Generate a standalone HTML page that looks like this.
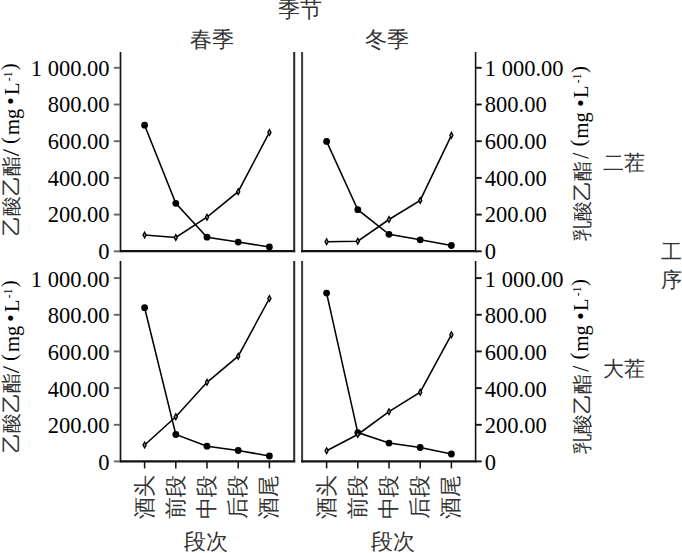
<!DOCTYPE html><html><head><meta charset="utf-8"><style>html,body{margin:0;padding:0;background:#fff;width:682px;height:553px;overflow:hidden}svg{display:block}text{font-family:"Liberation Serif",serif;fill:#000}.c{fill:#333}</style></head><body>
<svg width="682" height="553" viewBox="0 0 682 553">
<line x1="120.5" y1="52" x2="120.5" y2="252.2" stroke="#151515" stroke-width="1.7" stroke-linecap="butt"/>
<line x1="119.65" y1="251.2" x2="295.2" y2="251.2" stroke="#111" stroke-width="2.2" stroke-linecap="butt"/>
<line x1="294.2" y1="52" x2="294.2" y2="252.2" stroke="#262626" stroke-width="2.0" stroke-linecap="butt"/>
<line x1="302.1" y1="52" x2="302.1" y2="252.2" stroke="#3a3a3a" stroke-width="2.0" stroke-linecap="butt"/>
<line x1="301.1" y1="251.2" x2="476.4" y2="251.2" stroke="#111" stroke-width="2.2" stroke-linecap="butt"/>
<line x1="475.6" y1="52" x2="475.6" y2="252.2" stroke="#151515" stroke-width="1.6" stroke-linecap="butt"/>
<line x1="113.8" y1="251.3" x2="120" y2="251.3" stroke="#666" stroke-width="1.9"/>
<line x1="476" y1="251.3" x2="481.7" y2="251.3" stroke="#111" stroke-width="1.9"/>
<text x="109.5" y="259.1" font-size="22.5" text-anchor="end">0</text>
<text x="484.8" y="259.1" font-size="22.5" text-anchor="start">0</text>
<line x1="113.8" y1="214.6" x2="120" y2="214.6" stroke="#666" stroke-width="1.9"/>
<line x1="476" y1="214.6" x2="481.7" y2="214.6" stroke="#111" stroke-width="1.9"/>
<text x="109.5" y="222.4" font-size="22.5" text-anchor="end">200.00</text>
<text x="484.8" y="222.4" font-size="22.5" text-anchor="start">200.00</text>
<line x1="113.8" y1="177.9" x2="120" y2="177.9" stroke="#666" stroke-width="1.9"/>
<line x1="476" y1="177.9" x2="481.7" y2="177.9" stroke="#111" stroke-width="1.9"/>
<text x="109.5" y="185.7" font-size="22.5" text-anchor="end">400.00</text>
<text x="484.8" y="185.7" font-size="22.5" text-anchor="start">400.00</text>
<line x1="113.8" y1="141.2" x2="120" y2="141.2" stroke="#666" stroke-width="1.9"/>
<line x1="476" y1="141.2" x2="481.7" y2="141.2" stroke="#111" stroke-width="1.9"/>
<text x="109.5" y="149.0" font-size="22.5" text-anchor="end">600.00</text>
<text x="484.8" y="149.0" font-size="22.5" text-anchor="start">600.00</text>
<line x1="113.8" y1="104.5" x2="120" y2="104.5" stroke="#666" stroke-width="1.9"/>
<line x1="476" y1="104.5" x2="481.7" y2="104.5" stroke="#111" stroke-width="1.9"/>
<text x="109.5" y="112.3" font-size="22.5" text-anchor="end">800.00</text>
<text x="484.8" y="112.3" font-size="22.5" text-anchor="start">800.00</text>
<line x1="113.8" y1="67.8" x2="120" y2="67.8" stroke="#666" stroke-width="1.9"/>
<line x1="476" y1="67.8" x2="481.7" y2="67.8" stroke="#111" stroke-width="1.9"/>
<text x="109.5" y="75.6" font-size="22.5" text-anchor="end">1 000.00</text>
<text x="484.8" y="75.6" font-size="22.5" text-anchor="start">1 000.00</text>
<line x1="120.5" y1="261" x2="120.5" y2="462.3" stroke="#151515" stroke-width="1.7" stroke-linecap="butt"/>
<line x1="119.65" y1="461.3" x2="295.2" y2="461.3" stroke="#111" stroke-width="2.2" stroke-linecap="butt"/>
<line x1="294.2" y1="261" x2="294.2" y2="462.3" stroke="#262626" stroke-width="2.0" stroke-linecap="butt"/>
<line x1="302.1" y1="261" x2="302.1" y2="462.3" stroke="#3a3a3a" stroke-width="2.0" stroke-linecap="butt"/>
<line x1="301.1" y1="461.3" x2="476.4" y2="461.3" stroke="#111" stroke-width="2.2" stroke-linecap="butt"/>
<line x1="475.6" y1="261" x2="475.6" y2="462.3" stroke="#151515" stroke-width="1.6" stroke-linecap="butt"/>
<line x1="113.8" y1="461.4" x2="120" y2="461.4" stroke="#666" stroke-width="1.9"/>
<line x1="476" y1="461.4" x2="481.7" y2="461.4" stroke="#111" stroke-width="1.9"/>
<text x="109.5" y="469.9" font-size="22.5" text-anchor="end">0</text>
<text x="484.8" y="469.9" font-size="22.5" text-anchor="start">0</text>
<line x1="113.8" y1="424.8" x2="120" y2="424.8" stroke="#666" stroke-width="1.9"/>
<line x1="476" y1="424.8" x2="481.7" y2="424.8" stroke="#111" stroke-width="1.9"/>
<text x="109.5" y="433.2" font-size="22.5" text-anchor="end">200.00</text>
<text x="484.8" y="433.2" font-size="22.5" text-anchor="start">200.00</text>
<line x1="113.8" y1="388.1" x2="120" y2="388.1" stroke="#666" stroke-width="1.9"/>
<line x1="476" y1="388.1" x2="481.7" y2="388.1" stroke="#111" stroke-width="1.9"/>
<text x="109.5" y="396.6" font-size="22.5" text-anchor="end">400.00</text>
<text x="484.8" y="396.6" font-size="22.5" text-anchor="start">400.00</text>
<line x1="113.8" y1="351.4" x2="120" y2="351.4" stroke="#666" stroke-width="1.9"/>
<line x1="476" y1="351.4" x2="481.7" y2="351.4" stroke="#111" stroke-width="1.9"/>
<text x="109.5" y="359.9" font-size="22.5" text-anchor="end">600.00</text>
<text x="484.8" y="359.9" font-size="22.5" text-anchor="start">600.00</text>
<line x1="113.8" y1="314.8" x2="120" y2="314.8" stroke="#666" stroke-width="1.9"/>
<line x1="476" y1="314.8" x2="481.7" y2="314.8" stroke="#111" stroke-width="1.9"/>
<text x="109.5" y="323.3" font-size="22.5" text-anchor="end">800.00</text>
<text x="484.8" y="323.3" font-size="22.5" text-anchor="start">800.00</text>
<line x1="113.8" y1="278.1" x2="120" y2="278.1" stroke="#666" stroke-width="1.9"/>
<line x1="476" y1="278.1" x2="481.7" y2="278.1" stroke="#111" stroke-width="1.9"/>
<text x="109.5" y="286.6" font-size="22.5" text-anchor="end">1 000.00</text>
<text x="484.8" y="286.6" font-size="22.5" text-anchor="start">1 000.00</text>
<line x1="144.6" y1="461.4" x2="144.6" y2="468.4" stroke="#111" stroke-width="1.5"/>
<line x1="175.8" y1="461.4" x2="175.8" y2="468.4" stroke="#111" stroke-width="1.5"/>
<line x1="207.0" y1="461.4" x2="207.0" y2="468.4" stroke="#111" stroke-width="1.5"/>
<line x1="238.2" y1="461.4" x2="238.2" y2="468.4" stroke="#111" stroke-width="1.5"/>
<line x1="269.4" y1="461.4" x2="269.4" y2="468.4" stroke="#111" stroke-width="1.5"/>
<line x1="326.6" y1="461.4" x2="326.6" y2="468.4" stroke="#111" stroke-width="1.5"/>
<line x1="357.8" y1="461.4" x2="357.8" y2="468.4" stroke="#111" stroke-width="1.5"/>
<line x1="389.0" y1="461.4" x2="389.0" y2="468.4" stroke="#111" stroke-width="1.5"/>
<line x1="420.2" y1="461.4" x2="420.2" y2="468.4" stroke="#111" stroke-width="1.5"/>
<line x1="451.4" y1="461.4" x2="451.4" y2="468.4" stroke="#111" stroke-width="1.5"/>
<polyline points="144.6,125.2 175.8,203.3 207.0,237.2 238.2,242.1 269.4,247.0" fill="none" stroke="#000" stroke-width="1.55"/>
<circle cx="144.6" cy="125.2" r="3.4" fill="#000"/>
<circle cx="175.8" cy="203.3" r="3.4" fill="#000"/>
<circle cx="207.0" cy="237.2" r="3.4" fill="#000"/>
<circle cx="238.2" cy="242.1" r="3.4" fill="#000"/>
<circle cx="269.4" cy="247.0" r="3.4" fill="#000"/>
<polyline points="326.6,141.4 357.8,209.7 389.0,234.3 420.2,239.8 451.4,245.5" fill="none" stroke="#000" stroke-width="1.55"/>
<circle cx="326.6" cy="141.4" r="3.4" fill="#000"/>
<circle cx="357.8" cy="209.7" r="3.4" fill="#000"/>
<circle cx="389.0" cy="234.3" r="3.4" fill="#000"/>
<circle cx="420.2" cy="239.8" r="3.4" fill="#000"/>
<circle cx="451.4" cy="245.5" r="3.4" fill="#000"/>
<polyline points="144.6,307.7 175.8,434.5 207.0,446.2 238.2,450.5 269.4,456.0" fill="none" stroke="#000" stroke-width="1.55"/>
<circle cx="144.6" cy="307.7" r="3.4" fill="#000"/>
<circle cx="175.8" cy="434.5" r="3.4" fill="#000"/>
<circle cx="207.0" cy="446.2" r="3.4" fill="#000"/>
<circle cx="238.2" cy="450.5" r="3.4" fill="#000"/>
<circle cx="269.4" cy="456.0" r="3.4" fill="#000"/>
<polyline points="326.6,293.1 357.8,432.6 389.0,443.1 420.2,447.5 451.4,454.0" fill="none" stroke="#000" stroke-width="1.55"/>
<circle cx="326.6" cy="293.1" r="3.4" fill="#000"/>
<circle cx="357.8" cy="432.6" r="3.4" fill="#000"/>
<circle cx="389.0" cy="443.1" r="3.4" fill="#000"/>
<circle cx="420.2" cy="447.5" r="3.4" fill="#000"/>
<circle cx="451.4" cy="454.0" r="3.4" fill="#000"/>
<polyline points="144.6,235.1 175.8,237.4 207.0,217.2 238.2,191.7 269.4,132.4" fill="none" stroke="#000" stroke-width="1.55"/>
<path d="M144.6 232.2 L146.2 235.1 L144.6 238.0 L143.0 235.1 Z" fill="#999" stroke="#000" stroke-width="1.3"/>
<path d="M175.8 234.5 L177.4 237.4 L175.8 240.3 L174.2 237.4 Z" fill="#999" stroke="#000" stroke-width="1.3"/>
<path d="M207.0 214.3 L208.6 217.2 L207.0 220.1 L205.4 217.2 Z" fill="#999" stroke="#000" stroke-width="1.3"/>
<path d="M238.2 188.8 L239.8 191.7 L238.2 194.6 L236.6 191.7 Z" fill="#999" stroke="#000" stroke-width="1.3"/>
<path d="M269.4 129.5 L271.0 132.4 L269.4 135.3 L267.8 132.4 Z" fill="#999" stroke="#000" stroke-width="1.3"/>
<polyline points="326.6,241.8 357.8,241.2 389.0,219.5 420.2,200.4 451.4,135.3" fill="none" stroke="#000" stroke-width="1.55"/>
<path d="M326.6 238.9 L328.2 241.8 L326.6 244.7 L325.0 241.8 Z" fill="#999" stroke="#000" stroke-width="1.3"/>
<path d="M357.8 238.3 L359.4 241.2 L357.8 244.1 L356.2 241.2 Z" fill="#999" stroke="#000" stroke-width="1.3"/>
<path d="M389.0 216.6 L390.6 219.5 L389.0 222.4 L387.4 219.5 Z" fill="#999" stroke="#000" stroke-width="1.3"/>
<path d="M420.2 197.5 L421.8 200.4 L420.2 203.3 L418.6 200.4 Z" fill="#999" stroke="#000" stroke-width="1.3"/>
<path d="M451.4 132.4 L453.0 135.3 L451.4 138.2 L449.8 135.3 Z" fill="#999" stroke="#000" stroke-width="1.3"/>
<polyline points="144.6,445.0 175.8,416.7 207.0,382.3 238.2,356.2 269.4,298.5" fill="none" stroke="#000" stroke-width="1.55"/>
<path d="M144.6 442.1 L146.2 445.0 L144.6 447.9 L143.0 445.0 Z" fill="#999" stroke="#000" stroke-width="1.3"/>
<path d="M175.8 413.8 L177.4 416.7 L175.8 419.6 L174.2 416.7 Z" fill="#999" stroke="#000" stroke-width="1.3"/>
<path d="M207.0 379.4 L208.6 382.3 L207.0 385.2 L205.4 382.3 Z" fill="#999" stroke="#000" stroke-width="1.3"/>
<path d="M238.2 353.3 L239.8 356.2 L238.2 359.1 L236.6 356.2 Z" fill="#999" stroke="#000" stroke-width="1.3"/>
<path d="M269.4 295.6 L271.0 298.5 L269.4 301.4 L267.8 298.5 Z" fill="#999" stroke="#000" stroke-width="1.3"/>
<polyline points="326.6,450.7 357.8,434.5 389.0,411.7 420.2,392.2 451.4,334.7" fill="none" stroke="#000" stroke-width="1.55"/>
<path d="M326.6 447.8 L328.2 450.7 L326.6 453.6 L325.0 450.7 Z" fill="#999" stroke="#000" stroke-width="1.3"/>
<path d="M357.8 431.6 L359.4 434.5 L357.8 437.4 L356.2 434.5 Z" fill="#999" stroke="#000" stroke-width="1.3"/>
<path d="M389.0 408.8 L390.6 411.7 L389.0 414.6 L387.4 411.7 Z" fill="#999" stroke="#000" stroke-width="1.3"/>
<path d="M420.2 389.3 L421.8 392.2 L420.2 395.1 L418.6 392.2 Z" fill="#999" stroke="#000" stroke-width="1.3"/>
<path d="M451.4 331.8 L453.0 334.7 L451.4 337.6 L449.8 334.7 Z" fill="#999" stroke="#000" stroke-width="1.3"/>
<text x="300" y="17.0" font-size="21.8" text-anchor="middle" class="c">季节</text>
<text x="211.6" y="46.6" font-size="21.8" text-anchor="middle" class="c">春季</text>
<text x="386.8" y="46.6" font-size="21.8" text-anchor="middle" class="c">冬季</text>
<text x="603" y="170" font-size="21" class="c">二茬</text>
<text x="603" y="376" font-size="21" class="c">大茬</text>
<text x="661" y="258.7" font-size="21" class="c">工</text>
<text x="661" y="286.5" font-size="21" class="c">序</text>
<text transform="translate(144.6,518.6) rotate(-90)" font-size="21.5" dominant-baseline="central" class="c">酒头</text>
<text transform="translate(175.8,518.6) rotate(-90)" font-size="21.5" dominant-baseline="central" class="c">前段</text>
<text transform="translate(207.0,518.6) rotate(-90)" font-size="21.5" dominant-baseline="central" class="c">中段</text>
<text transform="translate(238.2,518.6) rotate(-90)" font-size="21.5" dominant-baseline="central" class="c">后段</text>
<text transform="translate(269.4,518.6) rotate(-90)" font-size="21.5" dominant-baseline="central" class="c">酒尾</text>
<text transform="translate(326.6,518.6) rotate(-90)" font-size="21.5" dominant-baseline="central" class="c">酒头</text>
<text transform="translate(357.8,518.6) rotate(-90)" font-size="21.5" dominant-baseline="central" class="c">前段</text>
<text transform="translate(389.0,518.6) rotate(-90)" font-size="21.5" dominant-baseline="central" class="c">中段</text>
<text transform="translate(420.2,518.6) rotate(-90)" font-size="21.5" dominant-baseline="central" class="c">后段</text>
<text transform="translate(451.4,518.6) rotate(-90)" font-size="21.5" dominant-baseline="central" class="c">酒尾</text>
<text x="206.1" y="549.2" font-size="22.2" text-anchor="middle" class="c">段次</text>
<text x="393.3" y="549.2" font-size="22.2" text-anchor="middle" class="c">段次</text>
<text transform="translate(16.45,70.30) rotate(-90)" font-size="21">)</text>
<text transform="translate(11.70,81.20) rotate(-90)" font-size="11.5">-1</text>
<text transform="translate(19.00,95.10) rotate(-90)" font-size="20.5">L</text>
<text transform="translate(18.40,105.10) rotate(-90)" font-size="22">•</text>
<text transform="translate(19.00,135.00) rotate(-90)" font-size="20.5">mg</text>
<text transform="translate(16.35,143.90) rotate(-90)" font-size="21">(</text>
<line x1="3.3" y1="149.6" x2="19" y2="155.6" stroke="#111" stroke-width="1.2"/>
<text transform="translate(17.90,235.70) rotate(-90)" font-size="19.8" class="c">乙酸乙酯</text>
<text transform="translate(16.45,287.30) rotate(-90)" font-size="21">)</text>
<text transform="translate(11.70,298.20) rotate(-90)" font-size="11.5">-1</text>
<text transform="translate(19.00,312.10) rotate(-90)" font-size="20.5">L</text>
<text transform="translate(18.40,322.10) rotate(-90)" font-size="22">•</text>
<text transform="translate(19.00,352.00) rotate(-90)" font-size="20.5">mg</text>
<text transform="translate(16.35,360.90) rotate(-90)" font-size="21">(</text>
<line x1="3.3" y1="366.6" x2="19" y2="372.6" stroke="#111" stroke-width="1.2"/>
<text transform="translate(17.90,452.70) rotate(-90)" font-size="19.8" class="c">乙酸乙酯</text>
<text transform="translate(585.50,73.00) rotate(-90)" font-size="21">)</text>
<text transform="translate(580.80,83.20) rotate(-90)" font-size="11.5">-1</text>
<text transform="translate(588.00,97.90) rotate(-90)" font-size="20.5">L</text>
<text transform="translate(587.70,107.10) rotate(-90)" font-size="22">•</text>
<text transform="translate(588.30,138.45) rotate(-90)" font-size="20.5">mg</text>
<text transform="translate(585.30,146.60) rotate(-90)" font-size="21">(</text>
<line x1="572.9" y1="153.2" x2="588.6" y2="158.3" stroke="#111" stroke-width="1.2"/>
<text transform="translate(588.50,241.10) rotate(-90)" font-size="19.8" class="c">乳酸乙酯</text>
<text transform="translate(585.50,286.00) rotate(-90)" font-size="21">)</text>
<text transform="translate(580.80,296.20) rotate(-90)" font-size="11.5">-1</text>
<text transform="translate(588.00,310.90) rotate(-90)" font-size="20.5">L</text>
<text transform="translate(587.70,320.10) rotate(-90)" font-size="22">•</text>
<text transform="translate(588.30,351.45) rotate(-90)" font-size="20.5">mg</text>
<text transform="translate(585.30,359.60) rotate(-90)" font-size="21">(</text>
<line x1="572.9" y1="366.2" x2="588.6" y2="371.3" stroke="#111" stroke-width="1.2"/>
<text transform="translate(588.50,454.10) rotate(-90)" font-size="19.8" class="c">乳酸乙酯</text>
</svg></body></html>
